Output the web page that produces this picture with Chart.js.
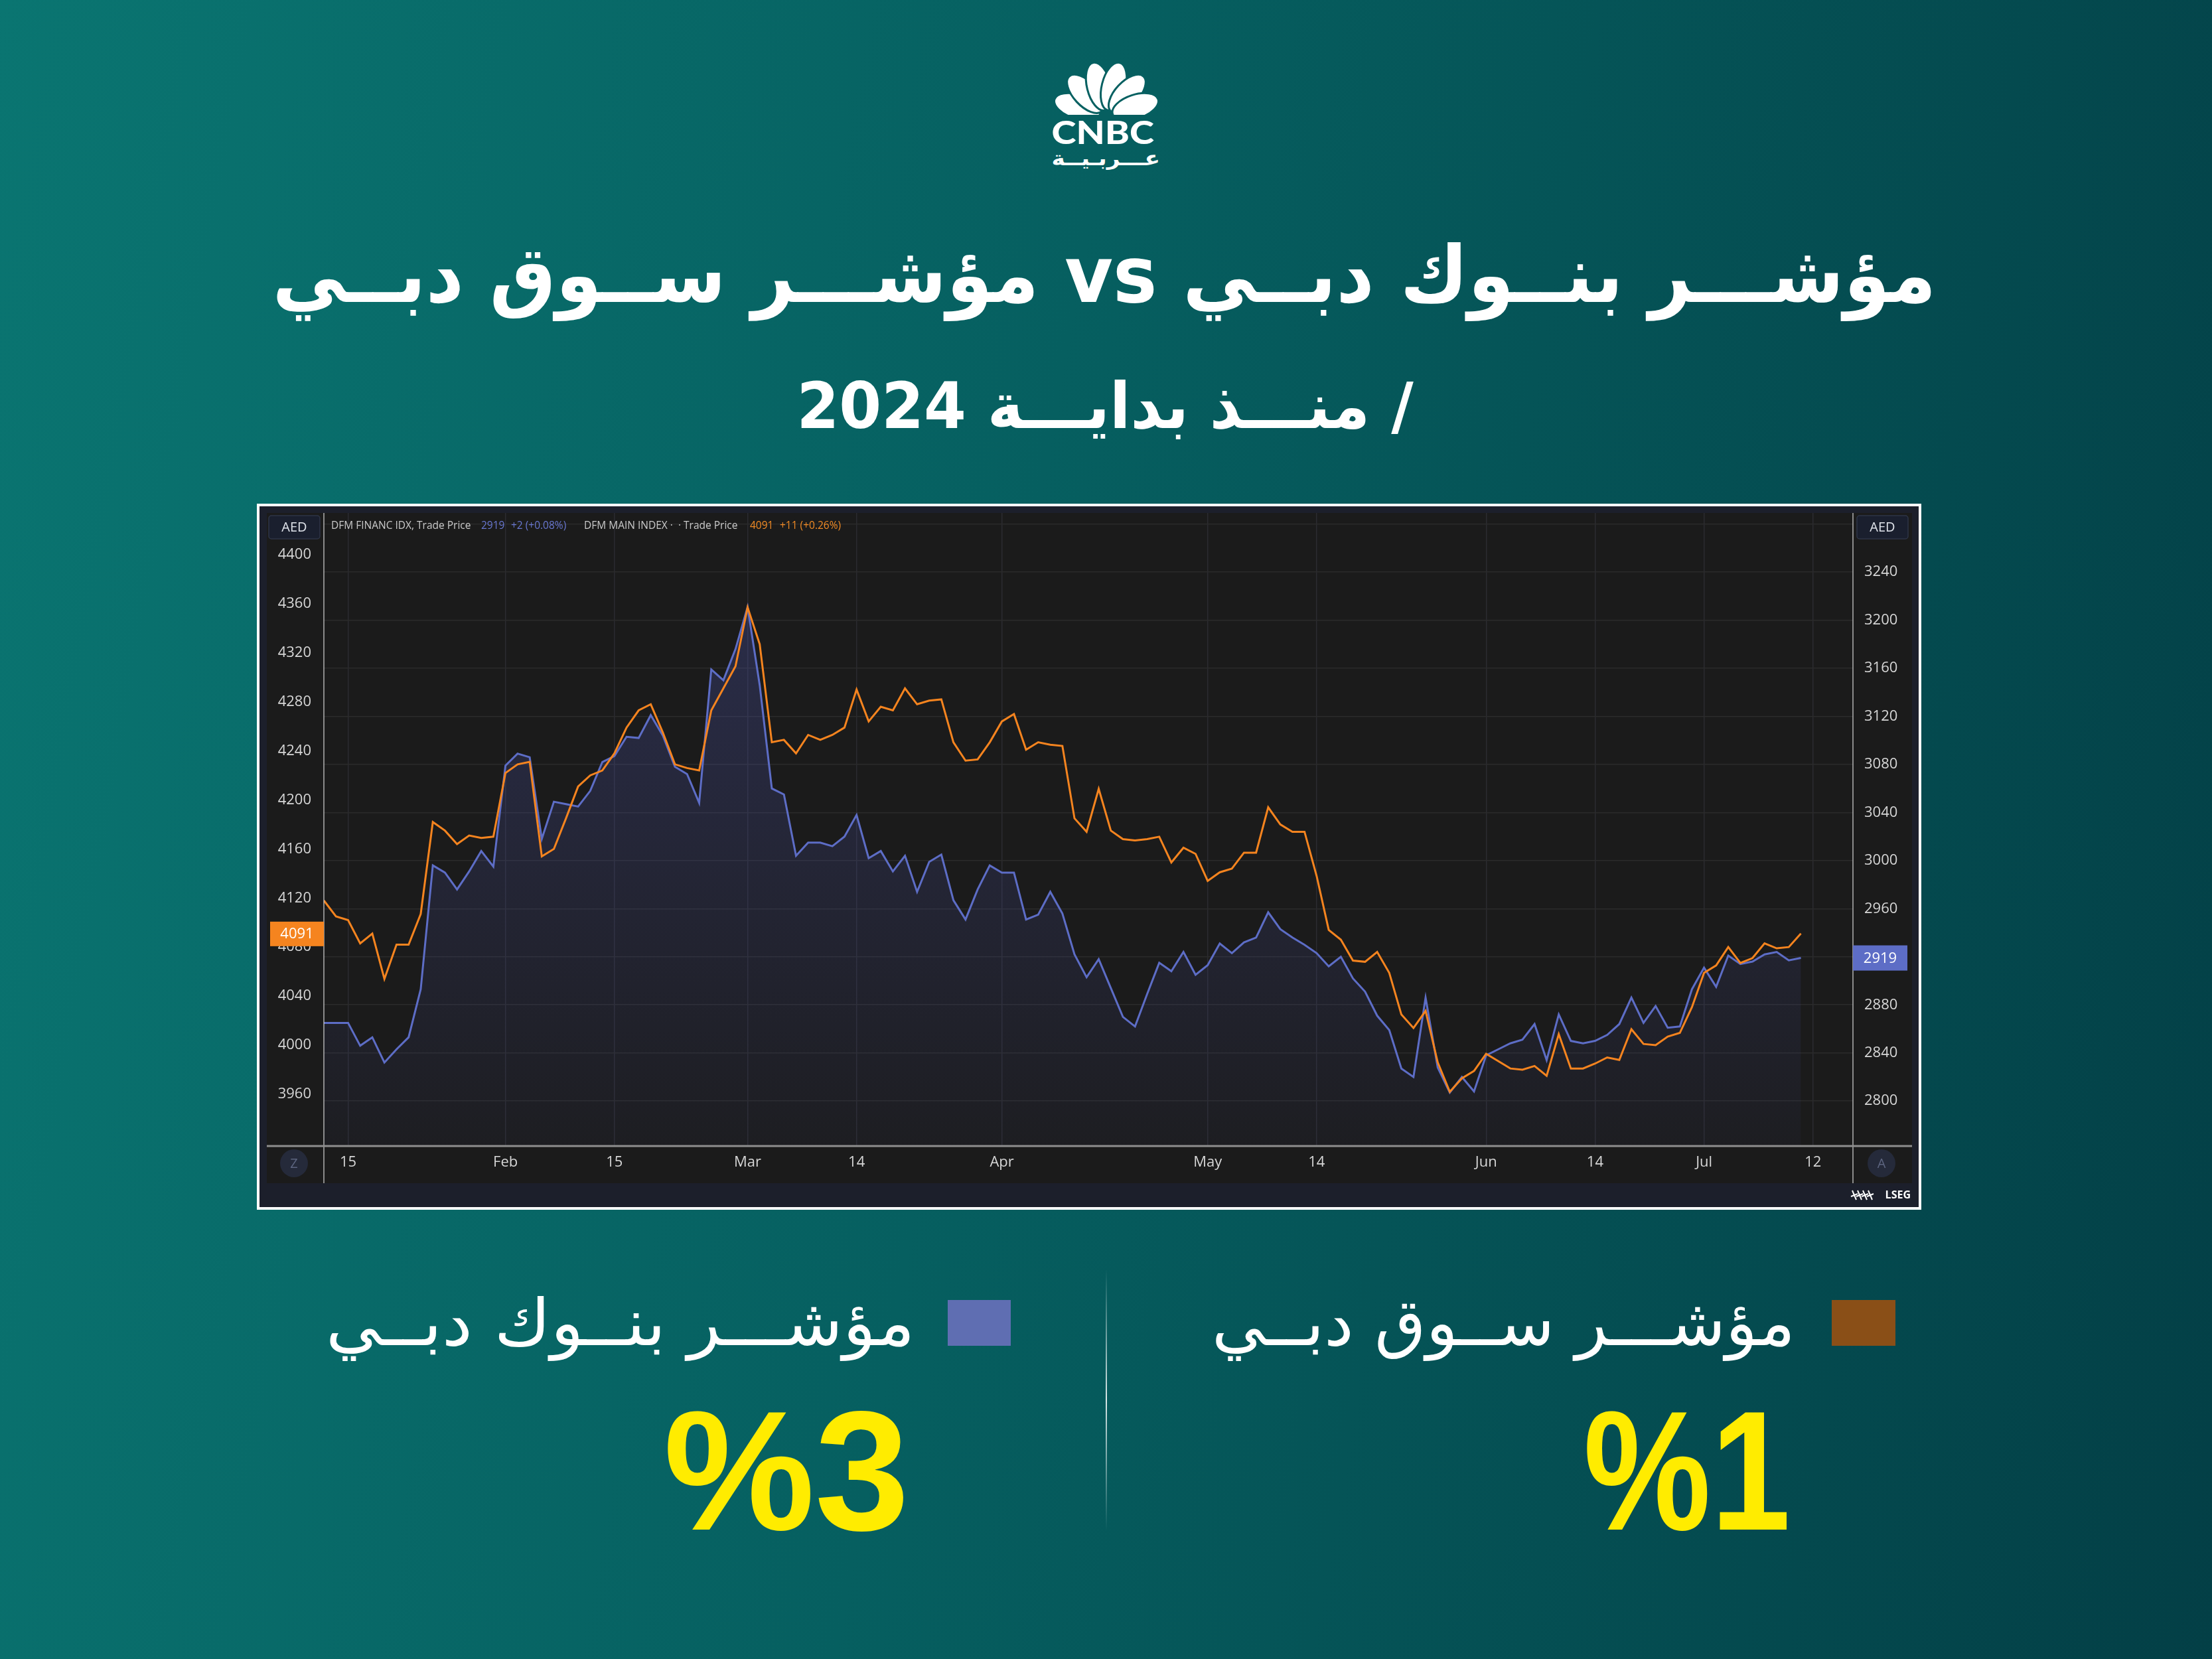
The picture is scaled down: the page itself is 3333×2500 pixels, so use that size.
<!DOCTYPE html>
<html lang="ar">
<head>
<meta charset="utf-8">
<script src="https://cdn.jsdelivr.net/npm/chart.js@4.4.1/dist/chart.umd.min.js"></script>
<style>
html, body { margin: 0; padding: 0; }
body {
  width: 3333px; height: 2500px; position: relative; overflow: hidden;
  background: linear-gradient(100deg, #0a7571 0%, #065f60 45%, #033f46 100%);
}
.t { position: absolute; white-space: nowrap; line-height: 1; color: #fff; margin: 0; left: 0; top: 0; }
.ar { font-family: "DejaVu Sans"; direction: rtl; }
.mk { display: inline-block; width: 0; height: 0; vertical-align: baseline; }
.pct { font-family: "Liberation Sans"; font-weight: bold; font-size: 256px; color: #ffec00; direction: ltr; }
#frame {
  position: absolute; left: 387px; top: 759px; width: 2508px; height: 1064px;
  border: 4px solid #fff; box-sizing: border-box; background: #1c1f2b;
}
#chart { display: block; }
.sq { position: absolute; }
#divider {
  position: absolute; left: 1666px; top: 1913px; width: 2px; height: 393px;
  background: linear-gradient(to bottom, rgba(255,255,255,0), rgba(255,255,255,.85) 50%, rgba(255,255,255,0));
}
</style>
</head>
<body>

<svg id="peacock" style="position:absolute;left:1577px;top:80px" width="180" height="100" viewBox="0 0 180 100">
  <defs><clipPath id="cut"><rect x="0" y="0" width="180" height="93"/></clipPath></defs>
  <g clip-path="url(#cut)" fill="#fff" stroke="#066061" stroke-width="3">
    <ellipse cx="0" cy="-46" rx="18" ry="36" transform="translate(90,95) rotate(-72)"/>
    <ellipse cx="0" cy="-46" rx="18" ry="36" transform="translate(90,95) rotate(-43)"/>
    <ellipse cx="0" cy="-46" rx="18" ry="37" transform="translate(90,95) rotate(-14)"/>
    <ellipse cx="0" cy="-46" rx="18" ry="37" transform="translate(90,95) rotate(14)"/>
    <ellipse cx="0" cy="-46" rx="18" ry="36" transform="translate(90,95) rotate(43)"/>
    <ellipse cx="0" cy="-46" rx="18" ry="36" transform="translate(90,95) rotate(72)"/>
  </g>
</svg>
<div class="t" id="cnbc" style="font-family:Lato;font-weight:900;font-size:47px">CNBC<span class="mk"></span></div>
<div class="t ar" id="arabiya" style="font-weight:bold;font-size:30px">عـــربـيــة<span class="mk"></span></div>

<div class="t ar" id="title" style="font-weight:bold;font-size:118px">مؤشـــر بنــوك دبــي vs مؤشـــر ســوق دبــي<span class="mk"></span></div>
<div class="t ar" id="subtitle" style="font-weight:bold;font-size:96px">/ منـــذ بدايـــة 2024<span class="mk"></span></div>

<div id="frame"><canvas id="chart" width="2500" height="1056" style="width:2500px;height:1056px"></canvas></div>

<div class="sq" style="left:2760px;top:1959px;width:96px;height:69px;background:#8a4f17"></div>
<div class="t ar" id="lblMain" style="font-size:98px">مؤشـــر ســوق دبــي<span class="mk"></span></div>
<div class="sq" style="left:1428px;top:1959px;width:95px;height:69px;background:#5f6eb2"></div>
<div class="t ar" id="lblBank" style="font-size:98px">مؤشـــر بنــوك دبــي<span class="mk"></span></div>
<div id="divider"></div>
<div class="t pct" id="pctMain">%1<span class="mk"></span></div>
<div class="t pct" id="pctBank">%3<span class="mk"></span></div>

<script>
// trading-day index of each point (0 = Jan 15); data run from Jan 11 to Jul 11
const firstDay = -2;
const dfmMain = [
  4118, 4105, 4102, 4083, 4091, 4054, 4082, 4082, 4107, 4182,
  4175, 4164, 4171, 4169, 4170, 4222, 4229, 4231, 4154, 4160,
  4185, 4211, 4220, 4224, 4238, 4259, 4273, 4278, 4255, 4229,
  4226, 4224, 4273, 4291, 4309, 4357, 4327, 4247, 4249, 4238,
  4253, 4249, 4253, 4259, 4290, 4264, 4276, 4273, 4291, 4278,
  4281, 4282, 4247, 4232, 4233, 4247, 4264, 4270, 4241, 4247,
  4245, 4244, 4185, 4174, 4209, 4175, 4168, 4167, 4168, 4170,
  4149, 4161, 4156, 4134, 4141, 4144, 4157, 4157, 4194, 4180,
  4174, 4174, 4138, 4094, 4086, 4069, 4068, 4076, 4059, 4025,
  4014, 4028, 3986, 3962, 3973, 3979, 3993, 3987, 3981, 3980,
  3983, 3975, 4009, 3981, 3981, 3985, 3990, 3988, 4013, 4001,
  4000, 4007, 4010, 4031, 4059, 4065, 4080, 4067, 4071, 4083,
  4079, 4080, 4091
];
const dfmFin = [
  2865, 2865, 2865, 2846, 2853, 2832, 2843, 2853, 2893, 2996,
  2990, 2976, 2991, 3008, 2995, 3079, 3089, 3086, 3018, 3049,
  3047, 3045, 3058, 3082, 3087, 3103, 3102, 3121, 3104, 3078,
  3072, 3048, 3159, 3150, 3176, 3211, 3146, 3060, 3055, 3004,
  3015, 3015, 3012, 3020, 3038, 3002, 3008, 2991, 3004, 2974,
  2999, 3005, 2967, 2951, 2976, 2996, 2990, 2990, 2951, 2955,
  2974, 2956, 2922, 2903, 2918, 2894, 2870, 2862, 2889, 2915,
  2908, 2924, 2905, 2913, 2931, 2923, 2932, 2936, 2957, 2943,
  2936, 2930, 2923, 2912, 2920, 2902, 2891, 2871, 2859, 2827,
  2820, 2886, 2828, 2807, 2820, 2808, 2838, 2843, 2848, 2851,
  2864, 2834, 2872, 2850, 2848, 2850, 2855, 2864, 2886, 2865,
  2879, 2861, 2862, 2893, 2911, 2895, 2921, 2914, 2916, 2922,
  2924, 2917, 2919
];
const tickDays = [0, 13, 22, 33, 42, 54, 71, 80, 94, 103, 112, 121];
const tickNames = ["15", "Feb", "15", "Mar", "14", "Apr", "May", "14", "Jun", "14", "Jul", "12"];

const ORANGE = "#f5841f";
const BLUE = "#5d6dc6";
const LABEL_FONT = { family: "Open Sans", size: 22 };

function place(id, o) {
  const el = document.getElementById(id);
  const w = el.offsetWidth;
  const base = el.querySelector(".mk").offsetTop;
  const s = o.width ? o.width / w : 1;
  if (o.cx !== undefined) {
    el.style.left = (o.cx - w / 2) + "px";
    el.style.transformOrigin = "50% 0";
  } else {
    el.style.left = (o.right - w) + "px";
    el.style.transformOrigin = "100% 0";
  }
  el.style.top = (o.baseline - base) + "px";
  el.style.transform = "scaleX(" + s + ")";
}

place("cnbc", { cx: 1662, baseline: 217, width: 155 });
place("arabiya", { cx: 1666, baseline: 249, width: 163 });
place("title", { cx: 1664, baseline: 455, width: 2507 });
place("subtitle", { cx: 1665, baseline: 645, width: 929 });
place("lblMain", { right: 2705, baseline: 2027, width: 879 });
place("lblBank", { right: 1378, baseline: 2027, width: 887 });
place("pctMain", { right: 2698, baseline: 2305, width: 312 });
place("pctBank", { right: 1370, baseline: 2305, width: 370 });

const pts = arr => arr.map((v, i) => ({ x: firstDay + i, y: v }));

function roundRect(c, x, y, w, h, r) {
  c.beginPath();
  c.moveTo(x + r, y);
  c.arcTo(x + w, y, x + w, y + h, r);
  c.arcTo(x + w, y + h, x, y + h, r);
  c.arcTo(x, y + h, x, y, r);
  c.arcTo(x, y, x + w, y, r);
  c.closePath();
}

const chrome = {
  id: "chrome",
  beforeDraw(chart) {
    const c = chart.ctx;
    c.save();
    c.fillStyle = "#1c1f2b";
    c.fillRect(0, 0, chart.width, chart.height);
    c.fillStyle = "#1b1b1b";
    c.fillRect(11, 10, 2479, 1010);
    c.restore();
  },
  afterDraw(chart) {
    const c = chart.ctx;
    const a = chart.chartArea;
    c.save();
    // axis lines
    c.strokeStyle = "rgba(215,215,215,0.8)";
    c.lineWidth = 1.5;
    [a.left, a.right].forEach(x => {
      c.beginPath(); c.moveTo(x, 10); c.lineTo(x, 1020); c.stroke();
    });
    c.strokeStyle = "#8e8e8e";
    c.lineWidth = 3;
    c.beginPath(); c.moveTo(11, a.bottom + 1); c.lineTo(2490, a.bottom + 1); c.stroke();

    // last value tags
    const lastMain = dfmMain[dfmMain.length - 1];
    const lastFin = dfmFin[dfmFin.length - 1];
    const yo = chart.scales.yL.getPixelForValue(lastMain);
    const yb = chart.scales.yR.getPixelForValue(lastFin);
    c.font = "22px 'Open Sans'";
    c.textAlign = "center";
    c.textBaseline = "middle";
    c.fillStyle = ORANGE;
    c.fillRect(16, yo - 18, a.left - 16, 37);
    c.fillStyle = "#fff";
    c.fillText(String(lastMain), (16 + a.left) / 2, yo + 1);
    c.fillStyle = BLUE;
    c.fillRect(a.right, yb - 19, 82, 38);
    c.fillStyle = "#fff";
    c.fillText(String(lastFin), a.right + 41, yb + 1);

    // currency boxes
    [14, 2407].forEach(x => {
      roundRect(c, x, 14, 77, 35, 4);
      c.fillStyle = "#1a1f2e"; c.fill();
      c.strokeStyle = "#2e3547"; c.lineWidth = 1.5; c.stroke();
      c.fillStyle = "#dfe3ea";
      c.font = "20px 'Open Sans'";
      c.fillText("AED", x + 38.5, 32);
    });

    // header legend
    c.textAlign = "left";
    c.font = "15.5px 'Open Sans'";
    const seg = [
      [108, "DFM FINANC IDX, Trade Price", "#c9c9c9"],
      [334, "2919", "#6877d0"],
      [379, "+2 (+0.08%)", "#6877d0"],
      [489, "DFM MAIN INDEX \u00b7  \u00b7 Trade Price", "#c9c9c9"],
      [739, "4091", "#f08a24"],
      [784, "+11 (+0.26%)", "#f08a24"]
    ];
    seg.forEach(s => { c.fillStyle = s[2]; c.fillText(s[1], s[0], 30); });

    // zoom / auto buttons
    c.textAlign = "center";
    [[52, "Z"], [2444, "A"]].forEach(b => {
      c.beginPath(); c.arc(b[0], 990, 21, 0, Math.PI * 2);
      c.fillStyle = "#252a3a"; c.fill();
      c.fillStyle = "#5d6580"; c.font = "20px 'Open Sans'";
      c.fillText(b[1], b[0], 991);
    });

    // LSEG mark
    c.fillStyle = "#fff";
    c.textAlign = "right";
    c.font = "bold 16px 'Open Sans'";
    c.fillText("LSEG", 2488, 1038);
    c.strokeStyle = "#fff"; c.lineWidth = 2;
    for (let k = 0; k < 4; k++) {
      c.beginPath();
      c.moveTo(2400 + k * 8, 1031); c.lineTo(2406 + k * 8, 1045);
      c.moveTo(2398 + k * 8, 1040); c.lineTo(2408 + k * 8, 1036);
      c.stroke();
    }
    c.restore();
  }
};

new Chart(document.getElementById("chart").getContext("2d"), {
  type: "line",
  data: {
    datasets: [
      {
        label: "DFM MAIN INDEX",
        data: pts(dfmMain),
        yAxisID: "yL",
        borderColor: ORANGE,
        borderWidth: 3,
        fill: false
      },
      {
        label: "DFM FINANC IDX",
        data: pts(dfmFin),
        yAxisID: "yR",
        borderColor: BLUE,
        borderWidth: 3,
        fill: "start",
        backgroundColor: ctx => {
          const a = ctx.chart.chartArea;
          if (!a) return "rgba(0,0,0,0)";
          const g = ctx.chart.ctx.createLinearGradient(0, a.top, 0, a.bottom);
          g.addColorStop(0, "rgba(84,94,200,0.30)");
          g.addColorStop(1, "rgba(84,94,200,0.04)");
          return g;
        }
      }
    ]
  },
  options: {
    responsive: false,
    animation: false,
    devicePixelRatio: 1,
    layout: { padding: { top: 10, left: 0, right: 0, bottom: 0 } },
    plugins: { legend: { display: false }, tooltip: { enabled: false } },
    elements: { point: { radius: 0 }, line: { tension: 0 } },
    scales: {
      x: {
        type: "linear",
        min: -2,
        max: 124.3,
        afterBuildTicks: s => { s.ticks = tickDays.map(v => ({ value: v })); },
        afterFit: s => { s.height = 93; s.paddingLeft = 0; s.paddingRight = 0; },
        grid: { color: "#2b2b30", lineWidth: 1.5, drawTicks: false },
        border: { display: false },
        ticks: {
          color: "#d6d6d6", font: LABEL_FONT, padding: 13,
          maxRotation: 0, autoSkip: false,
          callback: v => tickNames[tickDays.indexOf(v)]
        }
      },
      yL: {
        position: "left",
        min: 3918.3,
        max: 4434,
        afterFit: s => { s.width = 97; s.paddingTop = 0; s.paddingBottom = 0; },
        grid: { display: false, drawTicks: false },
        border: { display: false },
        ticks: {
          stepSize: 40, includeBounds: false, color: "#d6d6d6", font: LABEL_FONT,
          crossAlign: "center", padding: 19, autoSkip: false,
          callback: v => (v < 3940 ? "" : String(v))
        }
      },
      yR: {
        position: "right",
        min: 2763.1,
        max: 3289.2,
        afterFit: s => { s.width = 99; s.paddingTop = 0; s.paddingBottom = 0; },
        grid: { color: "#2b2b2b", lineWidth: 1.5, drawTicks: false },
        border: { display: false },
        ticks: {
          stepSize: 40, includeBounds: false, color: "#d6d6d6", font: LABEL_FONT,
          crossAlign: "center", padding: 17, autoSkip: false,
          callback: v => (v > 3250 ? "" : String(v))
        }
      }
    }
  },
  plugins: [chrome]
});
</script>
</body>
</html>
